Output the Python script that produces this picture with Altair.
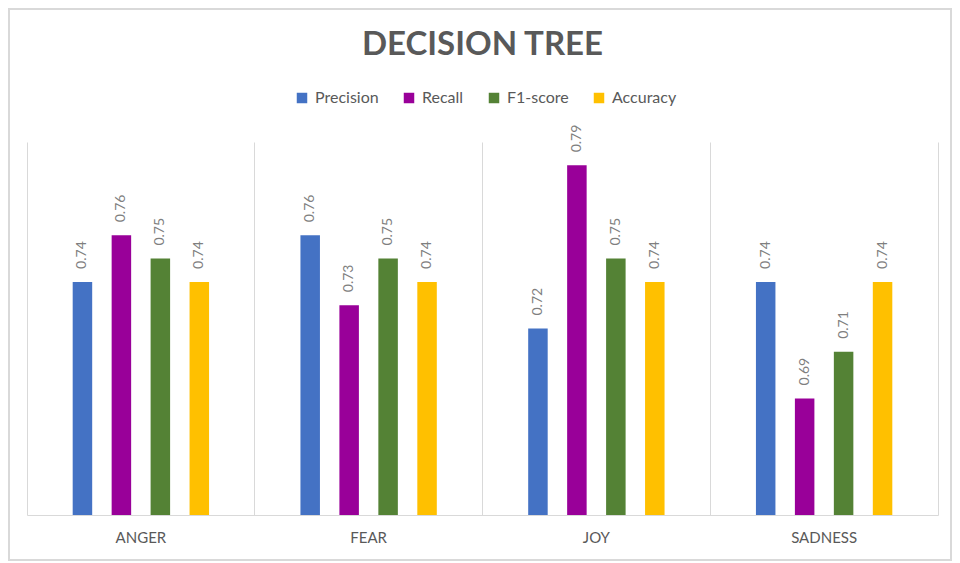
import altair as alt
import pandas as pd

categories = ["ANGER", "FEAR", "JOY", "SADNESS"]
metrics = ["Precision", "Recall", "F1-score", "Accuracy"]
precision = [0.74, 0.76, 0.72, 0.74]
recall = [0.76, 0.73, 0.79, 0.69]
f1score = [0.75, 0.75, 0.75, 0.71]
accuracy = [0.74, 0.74, 0.74, 0.74]
colors = ["#4472C4", "#990099", "#548235", "#FFC000"]

rows = []
for i, c in enumerate(categories):
    for m, vals in zip(metrics, [precision, recall, f1score, accuracy]):
        rows.append({"category": c, "metric": m, "value": vals[i]})
df = pd.DataFrame(rows)

FONT = "Lato"

base = alt.Chart(df).encode(
    x=alt.X("category:N", sort=categories, title=None,
            scale=alt.Scale(paddingInner=0, paddingOuter=0),
            axis=alt.Axis(grid=True, bandPosition=0, gridColor="#D9D9D9",
                          domainColor="#D9D9D9", ticks=False, labelAngle=0,
                          labelFont=FONT, labelFontSize=15, labelColor="#595959",
                          labelPadding=15)),
    xOffset=alt.XOffset("metric:N", sort=metrics,
                        scale=alt.Scale(paddingInner=0.154, paddingOuter=1)),
    y=alt.Y("value:Q", title=None,
            scale=alt.Scale(domain=[0.64, 0.80], zero=False, nice=False, clamp=True),
            axis=alt.Axis(orient="right", labels=False, ticks=False, grid=False,
                          domain=True, domainColor="#D9D9D9")),
)

bars = base.mark_bar(width=19.5).encode(
    color=alt.Color("metric:N", sort=metrics,
                    scale=alt.Scale(domain=metrics, range=colors),
                    legend=alt.Legend(title=None, orient="none", direction="horizontal",
                                      columns=4, legendX=267, legendY=-52,
                                      symbolType="square", symbolSize=110,
                                      symbolStrokeWidth=0,
                                      labelFont=FONT, labelFontSize=16,
                                      labelColor="#595959", labelOffset=5,
                                      columnPadding=22))
)

labels = base.mark_text(angle=270, align="left", baseline="middle", dx=13,
                        font=FONT, fontSize=14, color="#7F7F7F").encode(
    text=alt.Text("value:Q", format=".2f")
)

frame = alt.Chart(df).mark_rect(fill=None, stroke="#D9D9D9", strokeWidth=1.5).encode(
    x=alt.value(-18), x2=alt.value(924), y=alt.value(-133), y2=alt.value(418)
)

chart = alt.layer(frame, bars, labels).properties(
    width=911, height=373,
    title=alt.TitleParams("DECISION TREE", font=FONT, fontSize=33, fontWeight="bold",
                          color="#595959", anchor="middle", offset=-54),
    padding={"left": 19, "top": 134, "right": 14, "bottom": 48},
    autosize=alt.AutoSizeParams(type="none"),
    background="white",
).configure_view(stroke=None)

chart.save("out.html", embed_options={"renderer": "svg", "actions": False})
